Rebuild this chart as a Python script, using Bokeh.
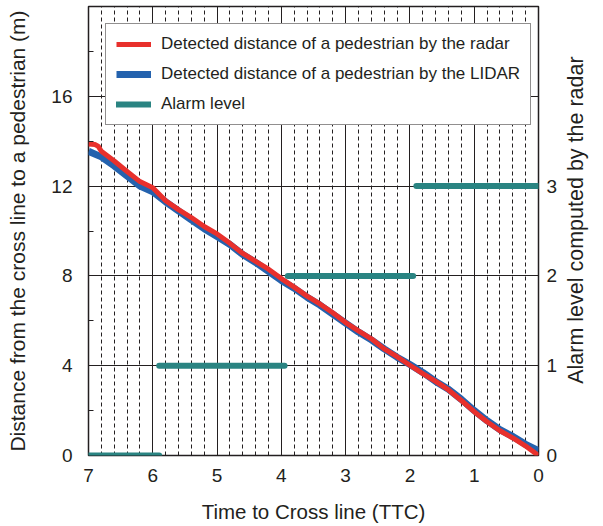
import math
from bokeh.plotting import figure
from bokeh.models import Range1d, LinearAxis, FixedTicker, Legend, LegendItem
from bokeh.embed import file_html
from bokeh.resources import INLINE

# ---- data ----
time_radar = [7.0, 6.9, 6.85, 6.8, 6.6, 6.4, 6.2, 6.0, 5.8, 5.6, 5.4, 5.2, 5.0, 4.8, 4.6, 4.4,
              4.2, 4.0, 3.8, 3.6, 3.4, 3.2, 3.0, 2.8, 2.6, 2.4, 2.2, 2.0, 1.8, 1.6, 1.4, 1.2,
              1.0, 0.8, 0.6, 0.4, 0.2, 0.0]
dist_radar = [13.87, 13.85, 13.78, 13.55, 13.12, 12.65, 12.2, 11.93, 11.35, 10.95, 10.6, 10.2,
              9.87, 9.45, 9.0, 8.65, 8.3, 7.88, 7.5, 7.1, 6.75, 6.36, 5.92, 5.55, 5.2, 4.75,
              4.4, 4.02, 3.65, 3.3, 2.92, 2.45, 1.95, 1.5, 1.1, 0.78, 0.42, 0.0]

time_lidar = [7.0, 6.8, 6.6, 6.4, 6.2, 6.0, 5.8, 5.6, 5.4, 5.2, 5.0, 4.8, 4.6, 4.4, 4.2, 4.0,
              3.8, 3.6, 3.4, 3.2, 3.0, 2.8, 2.6, 2.4, 2.2, 2.0, 1.8, 1.6, 1.4, 1.2, 1.0, 0.8,
              0.6, 0.4, 0.2, 0.0]
dist_lidar = [13.55, 13.3, 12.9, 12.45, 12.0, 11.75, 11.3, 10.9, 10.5, 10.1, 9.75, 9.4, 8.95,
              8.6, 8.2, 7.8, 7.45, 7.05, 6.7, 6.3, 5.9, 5.5, 5.15, 4.75, 4.38, 4.05, 3.7, 3.3,
              2.95, 2.5, 2.0, 1.55, 1.15, 0.85, 0.5, 0.22]

alarm_start = [7.0, 5.9, 3.9, 1.9]
alarm_end = [5.9, 3.95, 1.95, 0.0]
alarm_level = [0, 1, 2, 3]

x_ticks = [0, 1, 2, 3, 4, 5, 6, 7]
x_minor_ticks = [i / 5 for i in range(36) if i % 5 != 0]
dist_ticks = [0, 4, 8, 12, 16]
dist_minor_ticks = [2, 6, 10, 14, 18]
alarm_ticks = [0, 1, 2, 3]

FONT = "Liberation Sans"
INK = "#231f20"

p = figure(width=603, height=526, x_range=Range1d(7, 0), y_range=Range1d(0, 20),
           output_backend="svg", toolbar_location=None,
           min_border_left=88, min_border_right=60, min_border_top=6, min_border_bottom=71)
p.extra_y_ranges = {"alarm": Range1d(0, 5)}
p.outline_line_color = INK
p.outline_line_width = 1.5
p.background_fill_color = "white"

# grids
p.xgrid.ticker = FixedTicker(ticks=x_ticks, minor_ticks=x_minor_ticks)
p.xgrid.grid_line_color = INK
p.xgrid.grid_line_alpha = 1
p.xgrid.grid_line_width = 1
p.xgrid.minor_grid_line_color = INK
p.xgrid.minor_grid_line_dash = "4 3"
p.xgrid.minor_grid_line_width = 1
p.ygrid.ticker = FixedTicker(ticks=dist_ticks)
p.ygrid.grid_line_color = INK
p.ygrid.grid_line_width = 1

# glyphs
r_lidar = p.line(time_lidar, dist_lidar, line_color="#2462ae", line_width=7, line_join="round")
r_radar = p.line(time_radar, dist_radar, line_color="#e8302c", line_width=5, line_join="round")
r_alarm = p.segment(x0=alarm_start, y0=alarm_level, x1=alarm_end, y1=alarm_level,
                    y_range_name="alarm", line_color="#2a8482", line_width=6, line_cap="round")

# axes
xa = p.xaxis[0]
xa.ticker = FixedTicker(ticks=x_ticks)
xa.axis_label = "Time to Cross line (TTC)"
ya = p.yaxis[0]
ya.ticker = FixedTicker(ticks=dist_ticks, minor_ticks=dist_minor_ticks)
ya.axis_label = "Distance from the cross line to a pedestrian (m)"
ra = LinearAxis(y_range_name="alarm", ticker=FixedTicker(ticks=alarm_ticks),
                axis_label="\u00a0" * 12 + "Alarm level computed by the radar")
ra.axis_label_orientation = math.pi / 2
ra.axis_label_align = "start"
p.add_layout(ra, "right")

for ax in (xa, ya, ra):
    ax.axis_line_color = None
    ax.major_tick_in = 0
    ax.major_tick_out = 0
    ax.major_label_text_font = FONT
    ax.major_label_text_font_size = "19px"
    ax.major_label_text_color = INK
    ax.axis_label_text_font = FONT
    ax.axis_label_text_font_style = "normal"
    ax.axis_label_text_color = INK
xa.minor_tick_line_color = None
ra.minor_tick_line_color = None
ya.minor_tick_in = 5
ya.minor_tick_out = 0
ya.minor_tick_line_color = INK

xa.major_label_standoff = 13
xa.axis_label_standoff = 15
xa.axis_label_text_font_size = "20.5px"
ya.major_label_standoff = 16
ya.axis_label_standoff = 19
ya.axis_label_text_font_size = "21px"
ra.major_label_standoff = 8
ra.axis_label_standoff = 16
ra.axis_label_text_font_size = "21.5px"

legend = Legend(items=[
    LegendItem(label="Detected distance of a pedestrian by the radar", renderers=[r_radar]),
    LegendItem(label="Detected distance of a pedestrian by the LIDAR", renderers=[r_lidar]),
    LegendItem(label="Alarm level", renderers=[r_alarm]),
], location="top_left", margin=17)
legend.label_text_font = FONT
legend.label_text_font_size = "17px"
legend.label_text_color = INK
legend.glyph_width = 35
legend.glyph_height = 20
legend.label_height = 20
legend.label_standoff = 10
legend.spacing = 10
legend.padding = 10
legend.border_line_color = INK
legend.border_line_width = 1
legend.background_fill_alpha = 1
p.add_layout(legend)

open("out.html", "w").write(file_html(p, INLINE))
